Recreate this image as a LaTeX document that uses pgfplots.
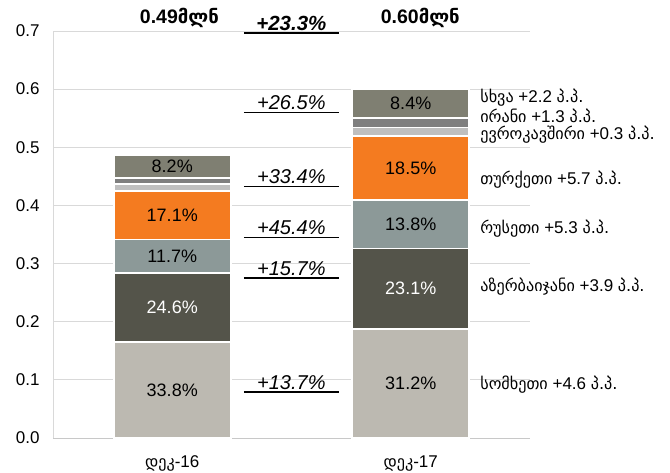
\documentclass[border=0pt]{standalone}
\usepackage{fontspec}
\setmainfont{Liberation Sans}
\newfontfamily\geo[Scale=0.95]{DejaVu Sans}
\usepackage{pgfplots}
\pgfplotsset{compat=1.18}
\newcommand\fs[1]{\fontsize{#1}{#1}\selectfont}
\definecolor{armenia}{HTML}{BCB9B1}
\definecolor{azer}{HTML}{54544A}
\definecolor{russia}{HTML}{8C9998}
\definecolor{turkey}{HTML}{F47B20}
\definecolor{eu}{HTML}{BFBFBF}
\definecolor{iran}{HTML}{7F7F7F}
\definecolor{other}{HTML}{7F7F72}
\definecolor{gridgray}{HTML}{D9D9D9}
\definecolor{axisgray}{HTML}{C8C8C8}
\tikzset{
  seglab/.style={font=\fs{18bp}, text=black, inner sep=0pt},
  growth/.style={midway, above, inner sep=2pt, font=\fs{20bp}\itshape},
  rlab/.style={anchor=west, inner sep=0pt, font=\fs{17bp}},
}
\begin{document}
\begin{tikzpicture}
\begin{axis}[
  scale only axis, width=477bp, height=407bp,
  ybar stacked, bar width=0.49,
  xmin=-0.5, xmax=1.5, ymin=0, ymax=0.7,
  xtick={0,1}, xticklabels={{\geo დეკ}-16,{\geo დეკ}-17},
  ytick={0,0.1,0.2,0.3,0.4,0.5,0.6,0.7},
  /pgf/number format/assume math mode=true,
  y tick label style={/pgf/number format/fixed,/pgf/number format/fixed zerofill,/pgf/number format/precision=1, xshift=-10bp},
  x tick label style={yshift=-14bp},
  tick label style={font=\fs{17bp}},
  major tick length=0pt,
  axis x line*=bottom, axis y line*=left,
  x axis line style={draw=axisgray,-, line width=0.9pt},
  y axis line style={draw=gridgray,-, line width=0.9pt},
  ymajorgrids, grid style={draw=gridgray, line width=0.9pt},
  clip=false,
]
\addplot[fill=armenia, draw=white, line width=1.8pt] coordinates {(0,0.1646) (1,0.1873)};
\addplot[fill=azer, draw=white, line width=1.8pt] coordinates {(0,0.1198) (1,0.1387)};
\addplot[fill=russia, draw=white, line width=1.8pt] coordinates {(0,0.0570) (1,0.0829)};
\addplot[fill=turkey, draw=white, line width=1.8pt] coordinates {(0,0.0833) (1,0.1111)};
\addplot[fill=eu, draw=white, line width=1.8pt] coordinates {(0,0.0125) (1,0.0140)};
\addplot[fill=iran, draw=white, line width=1.8pt] coordinates {(0,0.0099) (1,0.0162)};
\addplot[fill=other, draw=white, line width=1.8pt] coordinates {(0,0.0399) (1,0.0504)};

\coordinate (BL) at (rel axis cs:0,0);
\coordinate (TR) at (rel axis cs:1,1);
% segment label positions (segment midpoints)
\coordinate (a1) at (axis cs:0,0.0823);
\coordinate (a2) at (axis cs:0,0.2245);
\coordinate (a3) at (axis cs:0,0.3129);
\coordinate (a4) at (axis cs:0,0.3831);
\coordinate (a5) at (axis cs:0,0.4671);
\coordinate (b1) at (axis cs:1,0.0937);
\coordinate (b2) at (axis cs:1,0.2567);
\coordinate (b3) at (axis cs:1,0.3674);
\coordinate (b4) at (axis cs:1,0.4645);
\coordinate (b5) at (axis cs:1,0.5754);

% growth annotations
\draw[black, line width=1.2pt] (axis cs:0.30,0.0791) -- (axis cs:0.699,0.0791) node[growth] {+13.7\%};
\draw[black, line width=1.2pt] (axis cs:0.30,0.2752) -- (axis cs:0.699,0.2752) node[growth] {+15.7\%};
\draw[black, line width=1.2pt] (axis cs:0.30,0.3452) -- (axis cs:0.699,0.3452) node[growth] {+45.4\%};
\draw[black, line width=1.2pt] (axis cs:0.30,0.4322) -- (axis cs:0.699,0.4322) node[growth] {+33.4\%};
\draw[black, line width=1.2pt] (axis cs:0.30,0.5595) -- (axis cs:0.699,0.5595) node[growth] {+26.5\%};
\draw[black, line width=1.2pt] (axis cs:0.30,0.6966) -- (axis cs:0.699,0.6966) node[growth, font=\fs{20.5bp}\bfseries\itshape] {+23.3\%};

% totals
\node[font=\fs{19.5bp}\bfseries] at (axis cs:0.03,0.7224) {0.49{\geo მლნ}};
\node[font=\fs{19.5bp}\bfseries] at (axis cs:1.04,0.7224) {0.60{\geo მლნ}};

% right labels
\node[rlab] at (axis cs:1.291,0.5855) {{\geo სხვა} +2.2 {\geo პ.პ.}};
\node[rlab] at (axis cs:1.291,0.5535) {{\geo ირანი} +1.3 {\geo პ.პ.}};
\node[rlab] at (axis cs:1.291,0.5215) {{\geo ევროკავშირი} +0.3 {\geo პ.პ.}};
\node[rlab] at (axis cs:1.291,0.4437) {{\geo თურქეთი} +5.7 {\geo პ.პ.}};
\node[rlab] at (axis cs:1.291,0.3595) {{\geo რუსეთი} +5.3 {\geo პ.პ.}};
\node[rlab] at (axis cs:1.291,0.2597) {{\geo აზერბაიჯანი} +3.9 {\geo პ.პ.}};
\node[rlab] at (axis cs:1.291,0.0912) {{\geo სომხეთი} +4.6 {\geo პ.პ.}};
\end{axis}
\node[seglab] at (a1) {33.8\%};
\node[seglab, text=white] at (a2) {24.6\%};
\node[seglab] at (a3) {11.7\%};
\node[seglab] at (a4) {17.1\%};
\node[seglab] at (a5) {8.2\%};
\node[seglab] at (b1) {31.2\%};
\node[seglab, text=white] at (b2) {23.1\%};
\node[seglab] at (b3) {13.8\%};
\node[seglab] at (b4) {18.5\%};
\node[seglab] at (b5) {8.4\%};
\pgfresetboundingbox
\path ([shift={(-53bp,-35bp)}]BL) rectangle ([shift={(140bp,31bp)}]TR);
\end{tikzpicture}
\end{document}
